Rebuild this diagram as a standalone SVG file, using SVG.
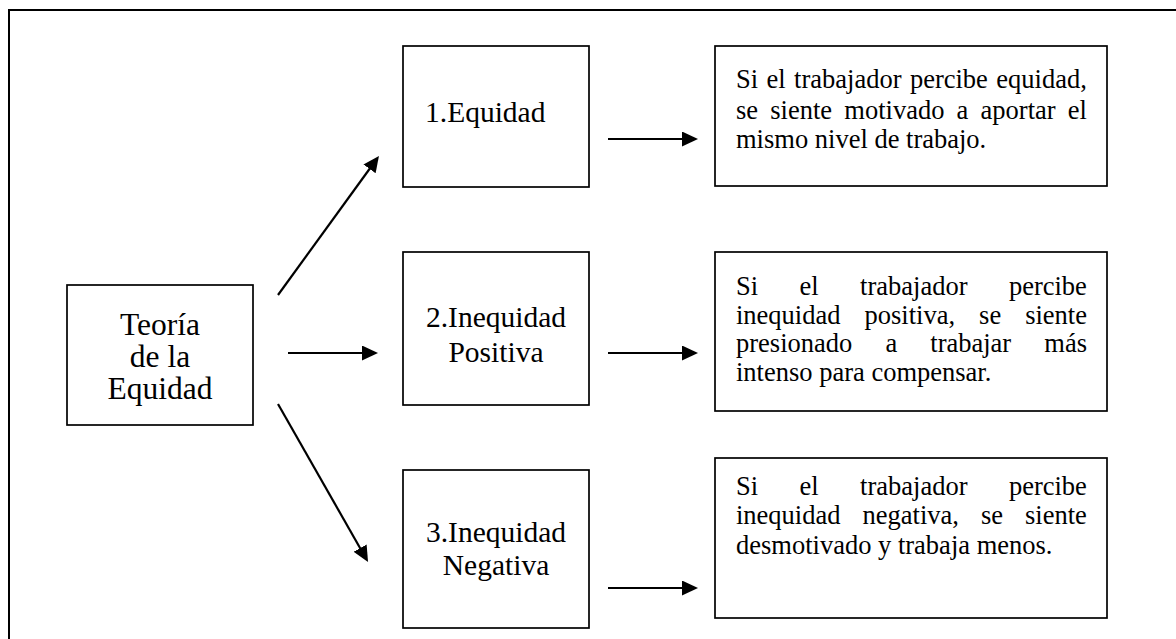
<svg xmlns="http://www.w3.org/2000/svg" width="1176" height="639" viewBox="0 0 1176 639">
<style>
.box{fill:#fff;stroke:#000;stroke-width:1.7}
.frame{fill:none;stroke:#000;stroke-width:2}
.t{font-family:"Liberation Serif","Times New Roman",serif;fill:#000}
.big{font-size:31.5px;text-anchor:middle}
.mid{font-size:29.5px}
.c{text-anchor:middle}
.body{font-size:26.5px}
.conn{stroke:#000;stroke-width:2.2;fill:none;marker-end:url(#ah)}
</style>
<defs>
<marker id="ah" markerUnits="userSpaceOnUse" markerWidth="18" markerHeight="16" refX="3" refY="7.5" orient="auto">
<path d="M0,0 L16,7.5 L0,15 z" fill="#000"/>
</marker>
</defs>
<rect width="1176" height="639" fill="#fff"/>
<rect class="frame" x="9" y="10" width="1200" height="700"/>
<g id="connectors">
<line class="conn" x1="278" y1="295" x2="371.3" y2="166.5"/>
<line class="conn" x1="288" y1="353" x2="365" y2="353"/>
<line class="conn" x1="278" y1="404" x2="361.6" y2="550.7"/>
<line class="conn" x1="608" y1="139" x2="685" y2="139"/>
<line class="conn" x1="608" y1="353" x2="685" y2="353"/>
<line class="conn" x1="608" y1="588" x2="685" y2="588"/>
</g>
<g id="teoria">
<rect class="box" x="67" y="285" width="186" height="140"/>
<text class="t big" x="160" y="334.5">Teoría</text>
<text class="t big" x="160" y="366.5">de la</text>
<text class="t big" x="160" y="398.5">Equidad</text>
</g>
<g id="equidad">
<rect class="box" x="403" y="46" width="186" height="141"/>
<text class="t mid" x="425" y="122">1.Equidad</text>
</g>
<g id="inequidad-positiva">
<rect class="box" x="403" y="252" width="186" height="153"/>
<text class="t mid c" x="496" y="327">2.Inequidad</text>
<text class="t mid c" x="496" y="362">Positiva</text>
</g>
<g id="inequidad-negativa">
<rect class="box" x="403" y="470" width="186" height="158"/>
<text class="t mid c" x="496" y="542">3.Inequidad</text>
<text class="t mid c" x="496" y="575">Negativa</text>
</g>
<g id="desc-equidad">
<rect class="box" x="715" y="46" width="392" height="140"/>
<text class="t body" x="736" y="88" word-spacing="1.8">Si el trabajador percibe equidad,</text>
<text class="t body" x="736" y="118.5" word-spacing="5.58">se siente motivado a aportar el</text>
<text class="t body" x="736" y="148">mismo nivel de trabajo.</text>
</g>
<g id="desc-positiva">
<rect class="box" x="715" y="252" width="392" height="159"/>
<text class="t body" x="736" y="295" word-spacing="34.8">Si el trabajador percibe</text>
<text class="t body" x="736" y="323.5" word-spacing="17.4">inequidad positiva, se siente</text>
<text class="t body" x="736" y="352" word-spacing="26.5">presionado a trabajar más</text>
<text class="t body" x="736" y="380.5">intenso para compensar.</text>
</g>
<g id="desc-negativa">
<rect class="box" x="715" y="458" width="392" height="160"/>
<text class="t body" x="736" y="494.5" word-spacing="34.8">Si el trabajador percibe</text>
<text class="t body" x="736" y="523.5" word-spacing="15.4">inequidad negativa, se siente</text>
<text class="t body" x="736" y="554">desmotivado y trabaja menos.</text>
</g>
</svg>
